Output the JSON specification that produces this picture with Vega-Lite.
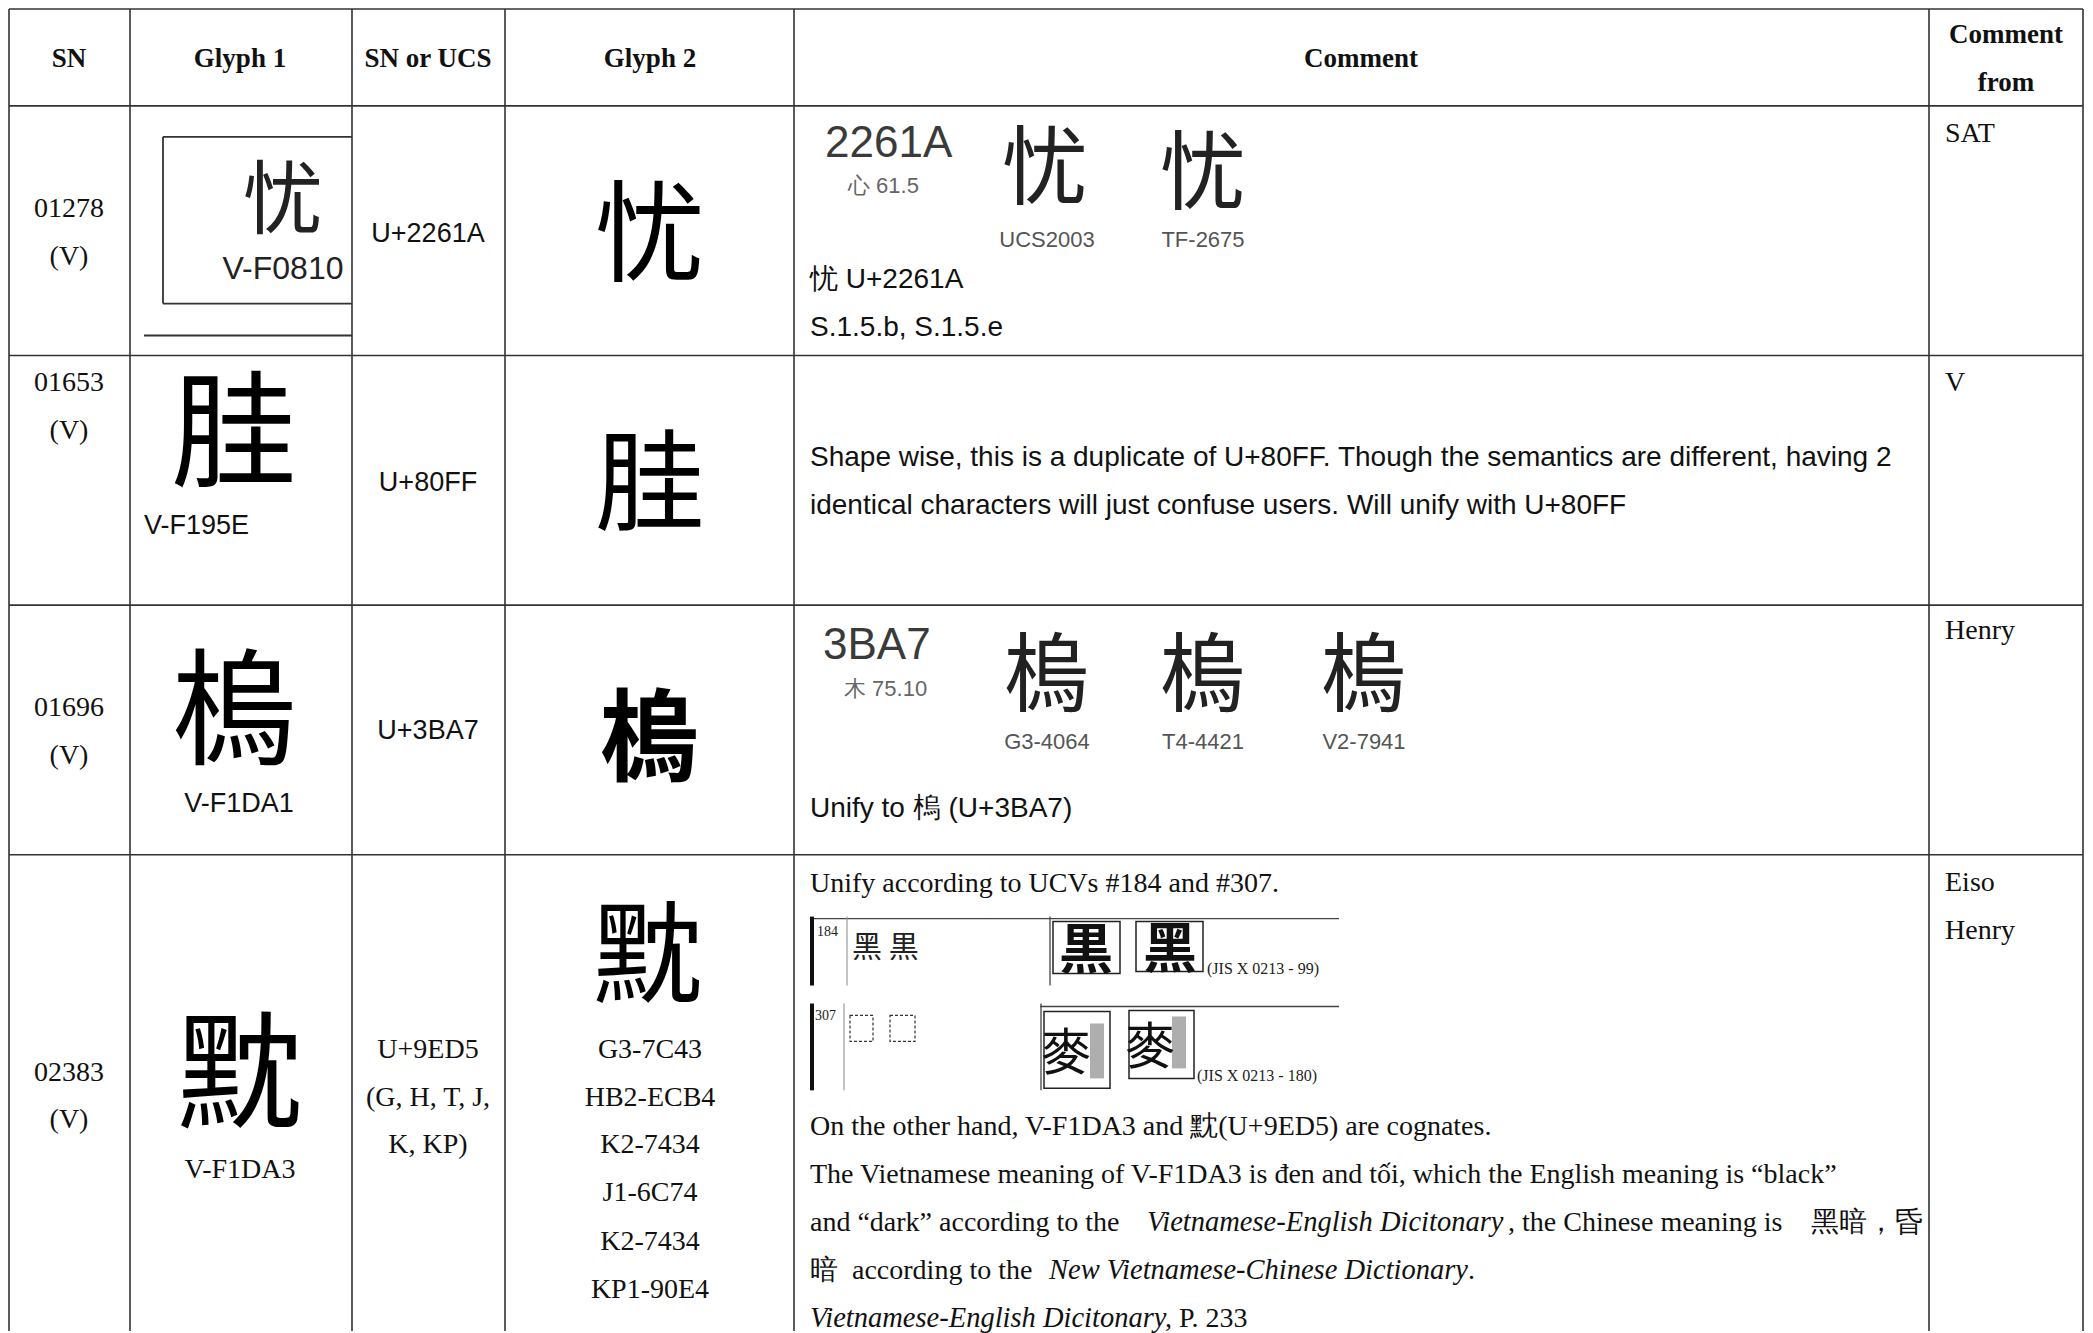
{
  "$schema": "https://vega.github.io/schema/vega-lite/v6.json",
  "width": 2093,
  "height": 1333,
  "padding": 0,
  "autosize": {"type": "fit", "contains": "padding"},
  "background": "white",
  "config": {"view": {"stroke": null}},
  "datasets": {
    "grid": [
      {"x": 9, "y": 9, "x2": 2083, "y2": 9},
      {"x": 9, "y": 106, "x2": 2083, "y2": 106},
      {"x": 9, "y": 356, "x2": 2083, "y2": 356},
      {"x": 9, "y": 606, "x2": 2083, "y2": 606},
      {"x": 9, "y": 856, "x2": 2083, "y2": 856},
      {"x": 9, "y": 9, "x2": 9, "y2": 1333},
      {"x": 130, "y": 9, "x2": 130, "y2": 1333},
      {"x": 352, "y": 9, "x2": 352, "y2": 1333},
      {"x": 505, "y": 9, "x2": 505, "y2": 1333},
      {"x": 794, "y": 9, "x2": 794, "y2": 1333},
      {"x": 1929, "y": 9, "x2": 1929, "y2": 1333},
      {"x": 2083, "y": 9, "x2": 2083, "y2": 1333}
    ],
    "boxLines": [
      {"x": 163, "y": 137, "x2": 352, "y2": 137},
      {"x": 163, "y": 137, "x2": 163, "y2": 304},
      {"x": 163, "y": 304, "x2": 352, "y2": 304},
      {"x": 144, "y": 336, "x2": 352, "y2": 336}
    ],
    "ucvDark": [
      {"x": 812, "y": 920, "x2": 1339, "y2": 920},
      {"x": 1050, "y": 918, "x2": 1050, "y2": 987},
      {"x": 1040, "y": 1008, "x2": 1339, "y2": 1008},
      {"x": 1041, "y": 1005, "x2": 1041, "y2": 1092}
    ],
    "ucvThick": [
      {"x": 812, "y": 918, "x2": 812, "y2": 987},
      {"x": 812, "y": 1005, "x2": 812, "y2": 1092}
    ],
    "ucvGrey": [
      {"x": 847, "y": 918, "x2": 847, "y2": 987},
      {"x": 844, "y": 1005, "x2": 844, "y2": 1092}
    ],
    "ucvBoxes": [
      {"x": 1053, "y": 923, "x2": 1120, "y2": 975},
      {"x": 1136, "y": 923, "x2": 1203, "y2": 973},
      {"x": 1044, "y": 1013, "x2": 1110, "y2": 1090},
      {"x": 1129, "y": 1012, "x2": 1194, "y2": 1080}
    ],
    "ucvDashed": [
      {"x": 850, "y": 1017, "x2": 873, "y2": 1043},
      {"x": 890, "y": 1017, "x2": 915, "y2": 1043}
    ],
    "ucvShade": [
      {"x": 1090, "y": 1025, "x2": 1104, "y2": 1080},
      {"x": 1172, "y": 1018, "x2": 1186, "y2": 1070}
    ],
    "hdr": [
      {"x": 69, "y": 67, "t": "SN"},
      {"x": 240, "y": 67, "t": "Glyph 1"},
      {"x": 428, "y": 67, "t": "SN or UCS"},
      {"x": 650, "y": 67, "t": "Glyph 2"},
      {"x": 1361, "y": 67, "t": "Comment"},
      {"x": 2006, "y": 43, "t": "Comment"},
      {"x": 2006, "y": 91, "t": "from"}
    ],
    "serifC": [
      {"x": 69, "y": 217, "t": "01278"},
      {"x": 69, "y": 265, "t": "(V)"},
      {"x": 69, "y": 392, "t": "01653"},
      {"x": 69, "y": 440, "t": "(V)"},
      {"x": 69, "y": 717, "t": "01696"},
      {"x": 69, "y": 765, "t": "(V)"},
      {"x": 69, "y": 1083, "t": "02383"},
      {"x": 69, "y": 1130, "t": "(V)"},
      {"x": 240, "y": 1180, "t": "V-F1DA3"},
      {"x": 428, "y": 1060, "t": "U+9ED5"},
      {"x": 428, "y": 1108, "t": "(G, H, T, J,"},
      {"x": 428, "y": 1155, "t": "K, KP)"},
      {"x": 650, "y": 1060, "t": "G3-7C43"},
      {"x": 650, "y": 1108, "t": "HB2-ECB4"},
      {"x": 650, "y": 1155, "t": "K2-7434"},
      {"x": 650, "y": 1203, "t": "J1-6C74"},
      {"x": 650, "y": 1252, "t": "K2-7434"},
      {"x": 650, "y": 1300, "t": "KP1-90E4"}
    ],
    "serifL": [
      {"x": 1945, "y": 142, "t": "SAT"},
      {"x": 1945, "y": 392, "t": "V"},
      {"x": 1945, "y": 640, "t": "Henry"},
      {"x": 1945, "y": 892, "t": "Eiso"},
      {"x": 1945, "y": 940, "t": "Henry"},
      {"x": 810, "y": 893, "t": "Unify according to UCVs #184 and #307."},
      {"x": 810, "y": 1137, "t": "On the other hand, V-F1DA3 and 黕(U+9ED5) are cognates."},
      {"x": 810, "y": 1185, "t": "The Vietnamese meaning of V-F1DA3 is đen and tối, which the English meaning is “black”"},
      {"x": 810, "y": 1233, "t": "and “dark” according to the"},
      {"x": 1508, "y": 1233, "t": ", the Chinese meaning is"},
      {"x": 1811, "y": 1233, "t": "黑暗，昏"},
      {"x": 810, "y": 1281, "t": "暗"},
      {"x": 852, "y": 1281, "t": "according to the"},
      {"x": 1468, "y": 1281, "t": "."},
      {"x": 1165, "y": 1329, "t": ", P. 233"}
    ],
    "serifI": [
      {"x": 1147, "y": 1233, "t": "Vietnamese-English Dicitonary"},
      {"x": 1049, "y": 1281, "t": "New Vietnamese-Chinese Dictionary"},
      {"x": 810, "y": 1329, "t": "Vietnamese-English Dicitonary"}
    ],
    "sansC": [
      {"x": 428, "y": 242, "t": "U+2261A"},
      {"x": 428, "y": 492, "t": "U+80FF"},
      {"x": 428, "y": 740, "t": "U+3BA7"},
      {"x": 239, "y": 813, "t": "V-F1DA1"}
    ],
    "imgLabel": [
      {"x": 283, "y": 279, "t": "V-F0810"}
    ],
    "sansL": [
      {"x": 144, "y": 535, "t": "V-F195E"}
    ],
    "sansComment": [
      {"x": 810, "y": 288, "t": "忧 U+2261A"},
      {"x": 810, "y": 337, "t": "S.1.5.b, S.1.5.e"},
      {"x": 810, "y": 467, "t": "Shape wise, this is a duplicate of U+80FF. Though the semantics are different, having 2"},
      {"x": 810, "y": 515, "t": "identical characters will just confuse users. Will unify with U+80FF"},
      {"x": 810, "y": 818, "t": "Unify to 㮧 (U+3BA7)"}
    ],
    "grayBig": [
      {"x": 825, "y": 157, "t": "2261A"},
      {"x": 823, "y": 660, "t": "3BA7"}
    ],
    "graySmall": [
      {"x": 848, "y": 193, "t": "心 61.5"},
      {"x": 844, "y": 697, "t": "木 75.10"}
    ],
    "grayLabel": [
      {"x": 1047, "y": 247, "t": "UCS2003"},
      {"x": 1203, "y": 247, "t": "TF-2675"},
      {"x": 1047, "y": 750, "t": "G3-4064"},
      {"x": 1203, "y": 750, "t": "T4-4421"},
      {"x": 1364, "y": 750, "t": "V2-7941"}
    ],
    "grayGlyph": [
      {"x": 1045, "y": 198, "t": "忧"},
      {"x": 1203, "y": 203, "t": "忧"},
      {"x": 1047, "y": 706, "t": "㮧"},
      {"x": 1203, "y": 706, "t": "㮧"},
      {"x": 1364, "y": 706, "t": "㮧"}
    ],
    "glyph2": [
      {"x": 650, "y": 273, "t": "忧"},
      {"x": 650, "y": 523, "t": "胿"},
      {"x": 648, "y": 995, "t": "黕"}
    ],
    "glyph2b": [
      {"x": 650, "y": 774, "t": "㮧"}
    ],
    "glyph1": [
      {"x": 234, "y": 478, "t": "胿"},
      {"x": 235, "y": 756, "t": "㮧"},
      {"x": 240, "y": 1120, "t": "黕"}
    ],
    "glyphBox": [
      {"x": 283, "y": 227, "t": "忧"}
    ],
    "ucvNum": [
      {"x": 817, "y": 937, "t": "184"},
      {"x": 815, "y": 1022, "t": "307"}
    ],
    "ucvChars": [
      {"x": 852, "y": 958, "t": "黑 黒"}
    ],
    "ucvBig": [
      {"x": 1086, "y": 970, "t": "黒"},
      {"x": 1170, "y": 969, "t": "黑"}
    ],
    "ucvMai": [
      {"x": 1066, "y": 1072, "t": "麥"},
      {"x": 1150, "y": 1066, "t": "麥"}
    ],
    "jis": [
      {"x": 1207, "y": 975, "t": "(JIS X 0213 - 99)"},
      {"x": 1197, "y": 1083, "t": "(JIS X 0213 - 180)"}
    ]
  },
  "encoding": {
    "x": {"field": "x", "type": "quantitative", "scale": {"domain": [0, 2093], "nice": false, "zero": false}, "axis": null},
    "y": {"field": "y", "type": "quantitative", "scale": {"domain": [0, 1333], "nice": false, "zero": false, "reverse": true}, "axis": null}
  },
  "layer": [
    {"data": {"name": "ucvShade"}, "mark": {"type": "rect", "fill": "#9a9a9a", "opacity": 0.8},
     "encoding": {"x2": {"field": "x2"}, "y2": {"field": "y2"}}},
    {"data": {"name": "ucvBoxes"}, "mark": {"type": "rect", "fill": null, "stroke": "#222", "strokeWidth": 1.5},
     "encoding": {"x2": {"field": "x2"}, "y2": {"field": "y2"}}},
    {"data": {"name": "ucvDashed"}, "mark": {"type": "rect", "fill": null, "stroke": "#333", "strokeWidth": 1.2, "strokeDash": [3, 2]},
     "encoding": {"x2": {"field": "x2"}, "y2": {"field": "y2"}}},
    {"data": {"name": "grid"}, "mark": {"type": "rule", "color": "#333", "strokeWidth": 1.6},
     "encoding": {"x2": {"field": "x2"}, "y2": {"field": "y2"}}},
    {"data": {"name": "boxLines"}, "mark": {"type": "rule", "color": "#333", "strokeWidth": 1.8},
     "encoding": {"x2": {"field": "x2"}, "y2": {"field": "y2"}}},
    {"data": {"name": "ucvDark"}, "mark": {"type": "rule", "color": "#444", "strokeWidth": 1.3},
     "encoding": {"x2": {"field": "x2"}, "y2": {"field": "y2"}}},
    {"data": {"name": "ucvThick"}, "mark": {"type": "rule", "color": "#111", "strokeWidth": 4},
     "encoding": {"x2": {"field": "x2"}, "y2": {"field": "y2"}}},
    {"data": {"name": "ucvGrey"}, "mark": {"type": "rule", "color": "#999", "strokeWidth": 1.2},
     "encoding": {"x2": {"field": "x2"}, "y2": {"field": "y2"}}},
    {"data": {"name": "hdr"}, "mark": {"type": "text", "font": "Liberation Serif", "fontWeight": "bold", "fontSize": 27, "align": "center", "baseline": "alphabetic", "color": "#111"},
     "encoding": {"text": {"field": "t"}}},
    {"data": {"name": "serifC"}, "mark": {"type": "text", "font": "Liberation Serif", "fontSize": 28, "align": "center", "baseline": "alphabetic", "color": "#111"},
     "encoding": {"text": {"field": "t"}}},
    {"data": {"name": "serifL"}, "mark": {"type": "text", "font": "Liberation Serif", "fontSize": 28, "align": "left", "baseline": "alphabetic", "color": "#111"},
     "encoding": {"text": {"field": "t"}}},
    {"data": {"name": "serifI"}, "mark": {"type": "text", "font": "Liberation Serif", "fontStyle": "italic", "fontSize": 28.5, "align": "left", "baseline": "alphabetic", "color": "#111"},
     "encoding": {"text": {"field": "t"}}},
    {"data": {"name": "sansC"}, "mark": {"type": "text", "font": "Liberation Sans", "fontSize": 27, "align": "center", "baseline": "alphabetic", "color": "#111"},
     "encoding": {"text": {"field": "t"}}},
    {"data": {"name": "imgLabel"}, "mark": {"type": "text", "font": "Liberation Sans", "fontSize": 32, "align": "center", "baseline": "alphabetic", "color": "#222"},
     "encoding": {"text": {"field": "t"}}},
    {"data": {"name": "sansL"}, "mark": {"type": "text", "font": "Liberation Sans", "fontSize": 27, "align": "left", "baseline": "alphabetic", "color": "#111"},
     "encoding": {"text": {"field": "t"}}},
    {"data": {"name": "sansComment"}, "mark": {"type": "text", "font": "Liberation Sans", "fontSize": 28, "align": "left", "baseline": "alphabetic", "color": "#111"},
     "encoding": {"text": {"field": "t"}}},
    {"data": {"name": "grayBig"}, "mark": {"type": "text", "font": "Liberation Sans", "fontSize": 44, "align": "left", "baseline": "alphabetic", "color": "#3a3a3a"},
     "encoding": {"text": {"field": "t"}}},
    {"data": {"name": "graySmall"}, "mark": {"type": "text", "font": "Liberation Sans", "fontSize": 22, "align": "left", "baseline": "alphabetic", "color": "#666"},
     "encoding": {"text": {"field": "t"}}},
    {"data": {"name": "grayLabel"}, "mark": {"type": "text", "font": "Liberation Sans", "fontSize": 22, "align": "center", "baseline": "alphabetic", "color": "#555"},
     "encoding": {"text": {"field": "t"}}},
    {"data": {"name": "grayGlyph"}, "mark": {"type": "text", "font": "Noto Sans CJK TC", "fontSize": 86, "align": "center", "baseline": "alphabetic", "color": "#222"},
     "encoding": {"text": {"field": "t"}}},
    {"data": {"name": "glyph2"}, "mark": {"type": "text", "font": "Noto Sans CJK TC", "fontSize": 110, "align": "center", "baseline": "alphabetic", "color": "#000"},
     "encoding": {"text": {"field": "t"}}},
    {"data": {"name": "glyph2b"}, "mark": {"type": "text", "font": "Noto Sans CJK TC", "fontWeight": "bold", "fontSize": 100, "align": "center", "baseline": "alphabetic", "color": "#000"},
     "encoding": {"text": {"field": "t"}}},
    {"data": {"name": "glyph1"}, "mark": {"type": "text", "font": "Noto Sans CJK TC", "fontSize": 126, "align": "center", "baseline": "alphabetic", "color": "#000"},
     "encoding": {"text": {"field": "t"}}},
    {"data": {"name": "glyphBox"}, "mark": {"type": "text", "font": "Noto Sans CJK TC", "fontSize": 80, "align": "center", "baseline": "alphabetic", "color": "#222"},
     "encoding": {"text": {"field": "t"}}},
    {"data": {"name": "ucvNum"}, "mark": {"type": "text", "font": "Liberation Serif", "fontSize": 14, "align": "left", "baseline": "alphabetic", "color": "#222"},
     "encoding": {"text": {"field": "t"}}},
    {"data": {"name": "ucvChars"}, "mark": {"type": "text", "font": "Noto Sans CJK JP", "fontSize": 30, "align": "left", "baseline": "alphabetic", "color": "#222"},
     "encoding": {"text": {"field": "t"}}},
    {"data": {"name": "ucvBig"}, "mark": {"type": "text", "font": "Noto Sans CJK JP", "fontWeight": "bold", "fontSize": 54, "align": "center", "baseline": "alphabetic", "color": "#111"},
     "encoding": {"text": {"field": "t"}}},
    {"data": {"name": "ucvMai"}, "mark": {"type": "text", "font": "Noto Sans CJK JP", "fontSize": 50, "align": "center", "baseline": "alphabetic", "color": "#111"},
     "encoding": {"text": {"field": "t"}}},
    {"data": {"name": "jis"}, "mark": {"type": "text", "font": "Liberation Serif", "fontSize": 16, "align": "left", "baseline": "alphabetic", "color": "#222"},
     "encoding": {"text": {"field": "t"}}}
  ]
}
